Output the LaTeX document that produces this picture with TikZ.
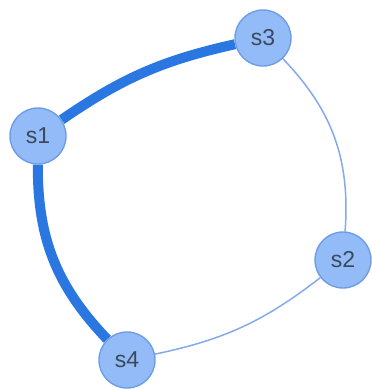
\documentclass[tikz,border=0pt]{standalone}
\usepackage{fontspec}
\setmainfont{Liberation Sans}
\usetikzlibrary{backgrounds}

\definecolor{nodefill}{HTML}{93BBF7}
\definecolor{nodeline}{HTML}{6E9DE6}
\definecolor{nodetext}{HTML}{3A4A5C}
\definecolor{heavyblue}{HTML}{2B77E2}
\definecolor{lightblue}{HTML}{86A8EC}

\begin{document}
\begin{tikzpicture}[
    x=1pt, y=-1pt,
    state/.style={circle, draw=nodeline, fill=nodefill, line width=1.4pt,
        minimum size=56pt, inner sep=0pt, text=nodetext,
        font=\fontsize{23}{26}\selectfont},
    heavy/.style={draw=heavyblue, line width=10pt},
    light/.style={draw=lightblue, line width=1.5pt}
]
\useasboundingbox (0,0) rectangle (372,389);

% States
\node[state] (s1) at (38,136) {s1};
\node[state] (s3) at (263,38) {s3};
\node[state] (s2) at (343,260) {s2};
\node[state] (s4) at (127,360) {s4};

% Transitions, behind the states
\begin{pgfonlayer}{background}
    \draw[heavy] (s1) to[bend left=11] (s3);
    \draw[light] (s3) to[bend left=24] (s2);
    \draw[light] (s2) to[bend left=13] (s4);
    \draw[heavy] (s4) to[bend left=22] (s1);
\end{pgfonlayer}

\end{tikzpicture}
\end{document}
